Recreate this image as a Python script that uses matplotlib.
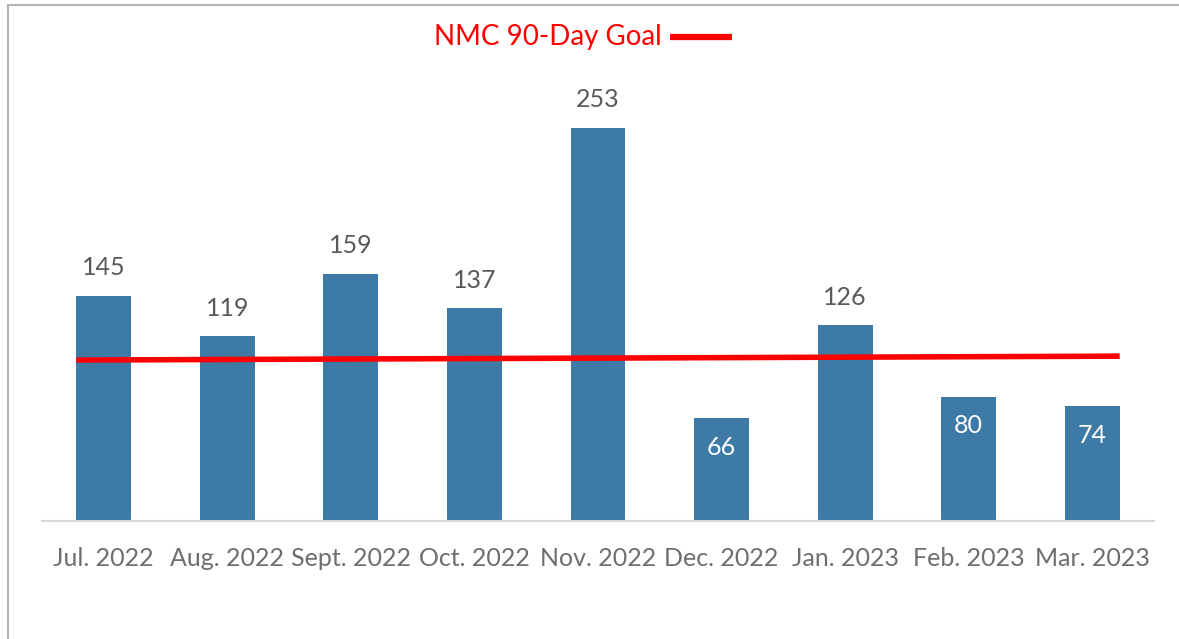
import matplotlib.pyplot as plt
from matplotlib.lines import Line2D

# Data
months = ["Jul. 2022", "Aug. 2022", "Sept. 2022", "Oct. 2022", "Nov. 2022",
          "Dec. 2022", "Jan. 2023", "Feb. 2023", "Mar. 2023"]
counts = [145, 119, 159, 137, 253, 66, 126, 80, 74]
goal_ends = [103.5, 106.0]  # goal line at first and last bar edge
inside_labels = ["Dec. 2022", "Feb. 2023", "Mar. 2023"]

bar_color = "#3D7BA6"
goal_color = "#FF0000"
font = "Lato"

fig = plt.figure(figsize=(11.79, 6.39), dpi=100)
ax = fig.add_axes([42 / 1179, 1 - 521 / 639, 1112 / 1179, 451 / 639])

x = list(range(len(months)))
bar_width = 0.445
ax.bar(x, counts, width=bar_width, color=bar_color, zorder=2)

# Goal line across the bars
ax.plot([x[0] - bar_width / 2, x[-1] + bar_width / 2], goal_ends,
        color=goal_color, linewidth=4, solid_capstyle="butt", zorder=3)

# Value labels
for xi, m, v in zip(x, months, counts):
    if m in inside_labels:
        ax.annotate(str(v), (xi, v), xytext=(0, -21), textcoords="offset points",
                    ha="center", va="center", color="white", fontsize=18, family=font)
    else:
        ax.annotate(str(v), (xi, v), xytext=(0, 20), textcoords="offset points",
                    ha="center", va="center", color="#595959", fontsize=18, family=font)

ax.set_xlim(-0.5, len(months) - 0.5)
ax.set_ylim(0, 290)
ax.set_xticks(x)
ax.set_xticklabels(months, fontsize=18, color="#6E6E6E", family=font)
ax.tick_params(axis="x", length=0, pad=19)
ax.set_yticks([])
for s in ["top", "right", "left"]:
    ax.spines[s].set_visible(False)
ax.spines["bottom"].set_color("#D9D9D9")
ax.spines["bottom"].set_linewidth(1.5)

# Legend-like title
fig.text(662 / 1179, 1 - 37 / 639, "NMC 90-Day Goal", ha="right", va="center",
         color=goal_color, fontsize=20, family=font)
fig.add_artist(Line2D([670 / 1179, 732 / 1179], [1 - 37 / 639, 1 - 37 / 639],
                      color=goal_color, linewidth=4.5, solid_capstyle="butt"))

# Outer frame (top and left)
fig.add_artist(Line2D([8 / 1179, 1], [1 - 5 / 639, 1 - 5 / 639], color="#B4B4B4", linewidth=1.5))
fig.add_artist(Line2D([8 / 1179, 8 / 1179], [0, 1 - 5 / 639], color="#B4B4B4", linewidth=1.5))

fig.savefig("out.png", dpi=100)
